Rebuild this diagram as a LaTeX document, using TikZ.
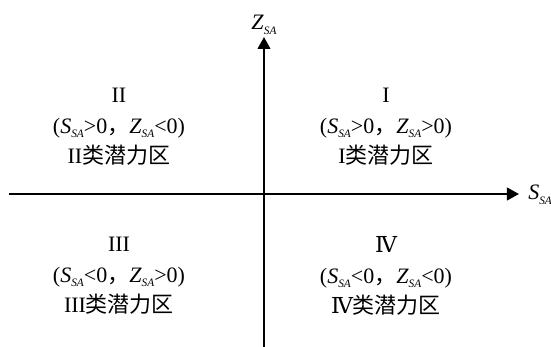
\documentclass[tikz,border=0pt]{standalone}
\usepackage{fontspec}
\usepackage{tikz}
\usetikzlibrary{arrows.meta}
\setmainfont{Liberation Serif}
\newfontfamily\cjk{Noto Sans CJK SC}
\newfontfamily\romfont{DejaVu Serif}
\newcommand{\Ssa}{\textit{S}\raisebox{-0.45ex}{\fontsize{8.5}{9}\selectfont\textit{SA}}}
\newcommand{\Zsa}{\textit{Z}\raisebox{-0.45ex}{\fontsize{8.5}{9}\selectfont\textit{SA}}}
\newcommand{\dou}{{\cjk ，}}

\begin{document}
\begin{tikzpicture}[
  x=0.75pt, y=0.75pt,
  axis/.style={line width=1.5pt, -{Triangle[length=9pt, width=9.5pt]}},
  quad/.style={align=center, font=\fontsize{16.5}{23}\selectfont, inner sep=0pt},
  axlabel/.style={font=\fontsize{16.5}{18}\selectfont, inner sep=0pt}
]
\useasboundingbox (-264,-153) rectangle (287,194);

\coordinate (o) at (0,0);
\coordinate (xl) at (-255,0);
\coordinate (xr) at (255,0);
\coordinate (yb) at (0,-153);
\coordinate (yt) at (0,157);

\draw[axis] (xl) -- (xr);
\draw[axis] (yb) -- (yt);

\node[axlabel] (zlab) at (0,169) {\Zsa};
\node[axlabel, anchor=west] (slab) at (264,-1) {\Ssa};

% --- quadrants -------------------------------------------------------------
\node[quad] (q1) at (122,67)  {I\\(\Ssa>0\dou\Zsa>0)\\I{\cjk 类潜力区}};
\node[quad] (q2) at (-145,67) {II\\(\Ssa>0\dou\Zsa<0)\\II{\cjk 类潜力区}};
\node[quad] (q3) at (-145,-82) {III\\(\Ssa<0\dou\Zsa>0)\\III{\cjk 类潜力区}};
\node[quad] (q4) at (122,-82) {{\romfont Ⅳ}\\(\Ssa<0\dou\Zsa<0)\\{\romfont Ⅳ}{\cjk 类潜力区}};

\end{tikzpicture}
\end{document}
